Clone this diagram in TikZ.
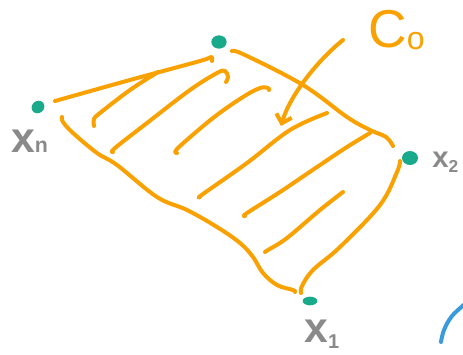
\documentclass[tikz,border=0pt]{standalone}
\usepackage{fontspec}
\setmainfont{Liberation Sans}
\usetikzlibrary{arrows.meta,shapes.geometric}
\definecolor{marker}{HTML}{F9A100}
\definecolor{pin}{HTML}{19A98B}
\definecolor{ink}{HTML}{8A8A8A}
\definecolor{sky}{HTML}{3A9BDC}
\begin{document}
\begin{tikzpicture}[x=0.75pt,y=-0.75pt,
  stroke/.style={draw=marker, line width=3pt, line cap=round, line join=round},
  dotmark/.style={ellipse, fill=pin, inner sep=0pt},
  lbl/.style={text=ink, inner sep=0pt, anchor=base west}]
\useasboundingbox (0,0) rectangle (463,354);

% outline of the region
\draw[stroke] plot[smooth, tension=0.6] coordinates {(55,101) (130,80) (200,61) (211,57) (212,61)};
\draw[stroke] plot[smooth, tension=0.6] coordinates {(232,51) (245,55) (303,85) (347,117) (370,130) (386,137) (393,146)};
\draw[stroke] plot[smooth, tension=0.6] coordinates {(400,161) (397,172) (380,205) (340,247) (313,270) (302,286) (301,293)};
\draw[stroke] plot[smooth, tension=0.6] coordinates {(62,117) (63,122) (73,133) (97,153) (117,165) (157,197) (187,210) (217,227) (240,243) (253,257) (263,273) (277,285) (293,290) (295,292)};

% hatching
\draw[stroke] plot[smooth, tension=0.6] coordinates {(94,126) (94,119) (100,113) (130,90) (158,72)};
\draw[stroke] plot[smooth, tension=0.6] coordinates {(113,152) (115,148) (147,123) (190,90) (217,73) (225,71) (228,77) (226,82)};
\draw[stroke] plot[smooth, tension=0.6] coordinates {(177,153) (178,148) (213,118) (243,97) (260,88) (268,88) (269,90)};
\draw[stroke] plot[smooth, tension=0.6] coordinates {(200,197) (203,194) (247,163) (290,130) (327,113)};
\draw[stroke] plot[smooth, tension=0.6] coordinates {(245,216) (247,213) (280,192) (320,165) (347,147) (370,133)};
\draw[stroke] plot[smooth, tension=0.6] coordinates {(265,252) (268,250) (287,238) (320,210) (343,192)};

% vertices
\node[dotmark, minimum width=11.5pt, minimum height=10pt] (ptop) at (219,42) {};
\node[dotmark, minimum width=10pt, minimum height=9pt, rotate=40] (pleft) at (38,107) {};
\node[dotmark, minimum width=12pt, minimum height=10.5pt] (pright) at (410,158) {};
\node[dotmark, minimum width=11pt, minimum height=6.5pt] (pbottom) at (310,301) {};

% labels
\node[lbl, font=\bfseries\fontsize{32}{32}\selectfont] (xn) at (11,152) {x\fontsize{16}{16}\selectfont n};
\node[lbl, font=\bfseries\fontsize{22}{22}\selectfont] (x2) at (432,167) {x\raisebox{-4pt}{\fontsize{13}{13}\selectfont 2}};
\node[lbl, font=\bfseries\fontsize{32}{32}\selectfont] (x1) at (304,342) {x\raisebox{-5pt}{\fontsize{15}{15}\selectfont 1}};
\node[lbl, text=marker, font=\fontsize{40}{40}\selectfont] (c0) at (368,47) {C\raisebox{-2pt}{\fontsize{24}{24}\selectfont o}};

% pointer into the region
\coordinate (tail) at (343,40);
\coordinate (head) at (281,126);
\draw[stroke, -{Straight Barb[length=6pt, width=12pt]}] (tail) .. controls (318,60) and (290,95) .. (head);

% arc at the lower right edge
\draw[draw=sky, line width=3pt, line cap=round] plot[smooth, tension=0.6] coordinates {(441,342) (444,330) (452,316) (466,303)};
\end{tikzpicture}
\end{document}
